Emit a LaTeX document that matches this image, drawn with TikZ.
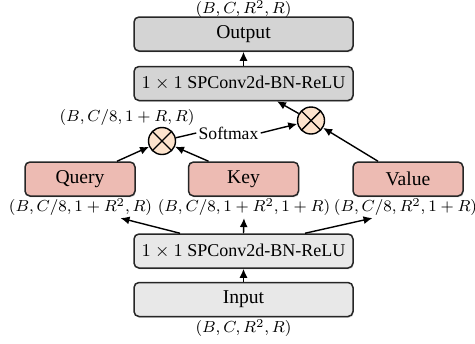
\documentclass[tikz,border=0pt]{standalone}
\usepackage{fontspec}
\setmainfont{Liberation Serif}
\usetikzlibrary{calc,arrows.meta,shadows}
\definecolor{boxdark}{HTML}{D4D4D4}
\definecolor{boxlight}{HTML}{E8E8E8}
\definecolor{qkvfill}{HTML}{EDBBB3}
\definecolor{multfill}{HTML}{FDE3CC}
\begin{document}
\begin{tikzpicture}[x=0.5pt,y=-0.5pt,
  box/.style={draw=black!85, line width=0.75pt, rounded corners=2.5pt,
    minimum width=109.5pt, minimum height=17pt, inner sep=0pt,
    font=\fontsize{9.8}{11}\selectfont,
    drop shadow={opacity=0.25, shadow xshift=0.4pt, shadow yshift=-0.7pt}},
  convtext/.style={font=\fontsize{9}{11}\selectfont},
  qkvbox/.style={box, fill=qkvfill, minimum width=55pt},
  lbl/.style={inner sep=1pt, font=\fontsize{8.2}{10}\selectfont},
  mul/.style={circle, draw=black, fill=multfill, line width=0.7pt,
    minimum size=13.5pt, inner sep=0pt,
    path picture={\draw[line width=0.7pt]
      (path picture bounding box.north west) -- (path picture bounding box.south east)
      (path picture bounding box.north east) -- (path picture bounding box.south west);}},
  arr/.style={-{Latex[length=4.5pt,width=4pt]}, line width=0.7pt},
  link/.style={line width=0.7pt}]
\path[use as bounding box] (0,0) rectangle (475,343);
% boxes
\node[box, fill=boxdark] (out) at (243.5,34) {Output};
\node[box, fill=boxdark, convtext] (conv2) at (243.5,83.5) {$1\times 1$ SPConv2d-BN-ReLU};
\node[qkvbox] (q) at (80,179) {Query};
\node[qkvbox] (k) at (243.5,179) {Key};
\node[qkvbox] (v) at (408,179) {Value};
\node[box, fill=boxlight, convtext] (conv1) at (243.5,251) {$1\times 1$ SPConv2d-BN-ReLU};
\node[box, fill=boxlight] (in) at (243.5,299.5) {Input};
% multiplications
\node[mul] (c1) at (162,141) {};
\node[mul] (c2) at (311,120.5) {};
% labels
\node[lbl] (lout) at (243.5,9) {$(B,C,R^2,R)$};
\node[lbl] (lin) at (243.5,328) {$(B,C,R^2,R)$};
\node[lbl] (lq) at (80.5,207) {$(B,C/8,1+R^2,R)$};
\node[lbl] (lk) at (244,207) {$(B,C/8,1+R^2,1+R)$};
\node[lbl] (lv) at (405.5,207) {$(B,C/8,R^2,1+R)$};
\node[lbl] (lc1) at (127,117) {$(B,C/8,1+R,R)$};
\node[inner sep=1pt, font=\fontsize{8.8}{10}\selectfont] (sm) at (228.5,133) {Softmax};
% connectors
\draw[arr] (in.north) -- (conv1.south);
\draw[arr] ($(conv1.north)+(-63.5,0)$) -- ($(lq.south)+(40,0)$);
\draw[arr] (conv1.north) -- (lk.south);
\draw[arr] ($(conv1.north)+(61.5,0)$) -- ($(lv.south)+(-33,0)$);
\draw[arr] ($(q.north)+(37,0)$) -- (c1);
\draw[arr] ($(k.north)+(-35,0)$) -- (c1);
\draw[link] (c1) -- (sm.west);
\draw[arr] (sm.east) -- (c2);
\draw[arr] ($(v.north)+(-30,0)$) -- (c2);
\draw[arr] (c2) -- ($(conv2.south)+(33.5,0)$);
\draw[arr] (conv2.north) -- (out.south);
\end{tikzpicture}
\end{document}
